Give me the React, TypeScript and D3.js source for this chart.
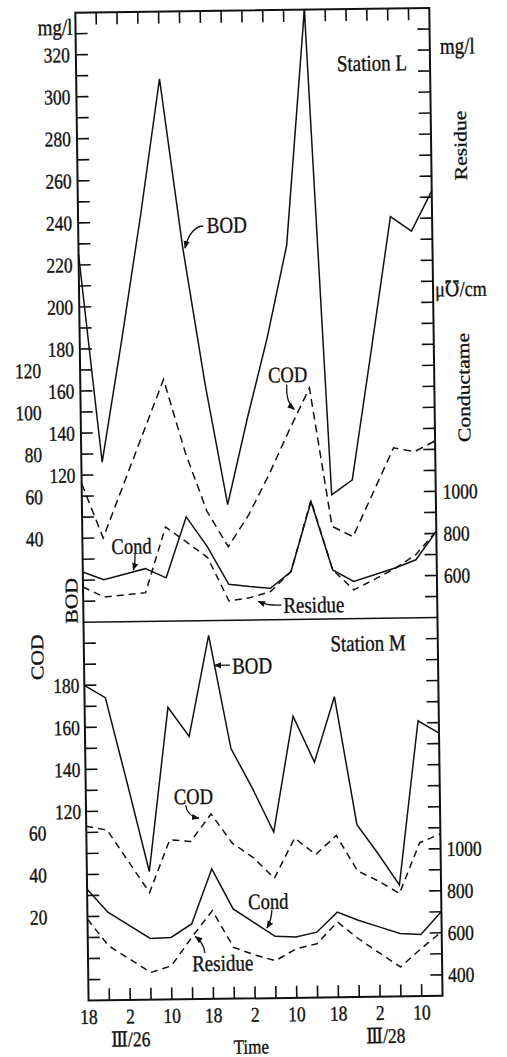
import React from 'react';
import * as d3 from 'd3';

// one reading every 4 hours, counted from III/25 18:00
const hours = [0, 4, 8, 12, 16, 20, 24, 28, 32, 36, 40, 44, 48, 52, 56, 60, 64, 68];

// Station L
const bodL = [225, 126, 183, 243, 308, 228, 162, 105, 146, 184, 228, 340, 109, 116, 178, 241, 234, 253];
const codL = [66, 40, 65, 90, 115, 80, 52, 35, 50, 69, 90, 110, 44, 39, 60, 81, 79, 84];
const condL = [639, 601, 626, 651, 606, 895, 751, 571, 559, 550, 628, 959, 633, 577, 607, 638, 676, 810];
const resL = [568, 519, 528, 537, 848, 775, 700, 492, 506, 534, 628, 966, 633, 537, 585, 637, 700, 810];

// Station M
const bodM = [180, 174, 133, 91, 169, 155, 203, 149, 130, 109, 164, 142, 173, 112, 98, 83, 161, 155];
const codM = [63, 61, 46, 31, 56, 55, 68, 54, 47, 37, 56, 48, 57, 40, 35, 29, 53, 57];
const condM = [830, 718, 655, 592, 595, 658, 919, 727, 660, 594, 589, 611, 705, 665, 632, 599, 593, 701];
const resM = [687, 559, 495, 430, 460, 595, 720, 544, 507, 478, 533, 556, 658, 577, 508, 440, 526, 605];

// axis labels
const timeLabels = ['18', '2', '10', '18', '2', '10', '18', '2', '10'];
const timeLabelHours = [0, 8, 16, 24, 32, 40, 48, 56, 64];
const dateLabels = ['Ⅲ/26', 'Ⅲ/28'];
const dateLabelHours = [8, 57];
const bodTicksL = [320, 300, 280, 260, 240, 220, 200, 180, 160, 140, 120];
const codTicksL = [120, 100, 80, 60, 40];
const condTicksL = [1000, 800, 600];
const bodTicksM = [180, 160, 140, 120];
const codTicksM = [60, 40, 20];
const condTicksM = [1000, 800, 600, 400];

const W = 354;
const H = 988;
const unit = H / 47;
const topH = unit * 29;
const FONT = "'Liberation Serif', 'DejaVu Serif', serif";

function Label({ u, v, text, size = 17.5, anchor = 'middle', rot = 0 }: any) {
  // the scanned figure is stretched a bit vertically
  return (
    <g transform={`translate(${u},${v}) scale(1,1.2) rotate(${rot})`}>
      <text textAnchor={anchor} dy="0.35em" fontSize={size} fill="#111" stroke="#111" strokeWidth={0.3}>{text}</text>
    </g>
  );
}

export default function App() {
  const x = d3.scaleLinear().domain([0, 68]).range([0, W]);
  const bodTop = d3.scaleLinear().domain([50, 340]).range([topH, 0]);
  const codTop = d3.scaleLinear().domain([0, 290]).range([topH, 0]);
  const condTop = d3.scaleLinear().domain([400, 3300]).range([topH, 0]);
  const bodBot = d3.scaleLinear().domain([30, 210]).range([H, topH]);
  const codBot = d3.scaleLinear().domain([-20, 160]).range([H, topH]);
  const condBot = d3.scaleLinear().domain([300, 2100]).range([H, topH]);

  const path = (vals: number[], y: any) =>
    d3.line<number>().x((_, i) => x(hours[i])).y((d) => y(d))(vals) || '';

  const leftTicksTop = d3.range(60, 331, 10).map((b) => bodTop(b));
  const leftTicksBot = d3.range(40, 201, 10).map((b) => bodBot(b));
  const xTicks = d3.range(4, 65, 4).map((h) => x(h));

  const lineStyle = { fill: 'none', stroke: '#111', strokeWidth: 1.5, strokeLinejoin: 'miter' as const };

  return (
    <svg width={507} height={1057} style={{ position: 'absolute', left: 0, top: 0, background: '#fff' }} fontFamily={FONT}>
      <defs>
        <marker id="ah" viewBox="0 0 10 10" refX="9" refY="5" markerWidth="6" markerHeight="6" orient="auto">
          <path d="M0,1 L10,5 L0,9 z" fill="#111" />
        </marker>
      </defs>
      <g transform="translate(75.3,12.7) rotate(-0.77)">
        {/* frame */}
        <rect x={0} y={0} width={W} height={H} fill="none" stroke="#111" strokeWidth={2} />
        <line x1={0} x2={W} y1={topH} y2={topH} stroke="#111" strokeWidth={1.6} />

        {/* ticks */}
        {[...leftTicksTop, ...leftTicksBot].map((v, i) => (
          <g key={'lt' + i}>
            <line x1={0} x2={12} y1={v} y2={v} stroke="#111" strokeWidth={1.6} />
            <line x1={W - 12} x2={W} y1={v} y2={v} stroke="#111" strokeWidth={1.6} />
          </g>
        ))}
        {xTicks.map((u, i) => (
          <g key={'xt' + i}>
            <line x1={u} x2={u} y1={0} y2={12} stroke="#111" strokeWidth={1.6} />
            <line x1={u} x2={u} y1={H - 12} y2={H} stroke="#111" strokeWidth={1.6} />
          </g>
        ))}

        {/* Station L */}
        <path d={path(bodL, bodTop)} {...lineStyle} />
        <path d={path(codL, codTop)} {...lineStyle} strokeDasharray="8,5" />
        <path d={path(condL, condTop)} {...lineStyle} />
        <path d={path(resL, condTop)} {...lineStyle} strokeDasharray="7,5" />

        {/* Station M */}
        <path d={path(bodM, bodBot)} {...lineStyle} />
        <path d={path(codM, codBot)} {...lineStyle} strokeDasharray="7,5" />
        <path d={path(condM, condBot)} {...lineStyle} />
        <path d={path(resM, condBot)} {...lineStyle} strokeDasharray="7,5" />

        {/* left axis labels */}
        <Label u={-3} v={14} text="mg/l" size={19} anchor="end" />
        {bodTicksL.map((b) => <Label key={'bl' + b} u={-6} v={bodTop(b)} text={b} anchor="end" />)}
        {codTicksL.map((c) => <Label key={'cl' + c} u={-39} v={codTop(c)} text={c} anchor="end" />)}
        <Label u={-12} v={588} text="BOD" size={18} rot={-90} />
        {bodTicksM.map((b) => <Label key={'bm' + b} u={-5} v={bodBot(b)} text={b} anchor="end" />)}
        {codTicksM.map((c) => <Label key={'cm' + c} u={-40} v={codBot(c)} text={c} anchor="end" />)}
        <Label u={-47} v={644} text="COD" size={18} rot={-90} />

        {/* right axis labels */}
        <Label u={364} v={38} text="mg/l" size={19} anchor="start" />
        <Label u={383} v={138} text="Residue" size={18} rot={-90} />
        <Label u={356} v={281} text="μ℧/cm" size={18} anchor="start" />
        <Label u={383} v={380} text="Conductame" size={18} rot={-90} />
        {condTicksL.map((c) => <Label key={'rl' + c} u={361} v={condTop(c)} text={c} anchor="start" />)}
        {condTicksM.map((c) => <Label key={'rm' + c} u={360} v={condBot(c)} text={c} anchor="start" />)}

        {/* x axis labels */}
        {timeLabels.map((t, i) => <Label key={'tx' + i} u={x(timeLabelHours[i])} v={1004} text={t} />)}
        {dateLabels.map((t, i) => <Label key={'dx' + i} u={x(dateLabelHours[i])} v={1027} text={t} />)}
        <Label u={162} v={1036} text="Time" size={17} />

        {/* station titles */}
        <Label u={331} v={54} text="Station L" size={19} anchor="end" />
        <Label u={322} v={634} text="Station M" size={19} anchor="end" />

        {/* annotations, Station L */}
        <Label u={128.5} v={214} text="BOD" size={19} anchor="start" />
        <path d="M125,215 Q112,216 106.5,236.8" fill="none" stroke="#111" strokeWidth={1.3} markerEnd="url(#ah)" />
        <Label u={188} v={364.5} text="COD" size={18.5} anchor="start" />
        <path d="M206.4,374.7 Q205,392 213.6,399.8" fill="none" stroke="#111" strokeWidth={1.3} markerEnd="url(#ah)" />
        <Label u={29} v={534} text="Cond" size={18.5} anchor="start" />
        <path d="M52.4,542 Q53,550 50.5,558" fill="none" stroke="#111" strokeWidth={1.3} markerEnd="url(#ah)" />
        <Label u={200} v={595} text="Residue" size={19} anchor="start" />
        <path d="M198,595 Q186,596 175,591" fill="none" stroke="#111" strokeWidth={1.3} markerEnd="url(#ah)" />

        {/* annotations, Station M */}
        <Label u={148} v={655} text="BOD" size={19} anchor="start" />
        <path d="M146,654.5 L130,654.5" fill="none" stroke="#111" strokeWidth={1.3} markerEnd="url(#ah)" />
        <Label u={88} v={785} text="COD" size={18.5} anchor="start" />
        <path d="M99.7,794 Q101,805 112.8,807" fill="none" stroke="#111" strokeWidth={1.3} markerEnd="url(#ah)" />
        <Label u={161} v={891} text="Cond" size={18.5} anchor="start" />
        <path d="M184.5,900 Q184,910 179.3,917.8" fill="none" stroke="#111" strokeWidth={1.3} markerEnd="url(#ah)" />
        <Label u={104} v={952} text="Residue" size={19} anchor="start" />
        <path d="M117,942 Q116,932 107.5,925.4" fill="none" stroke="#111" strokeWidth={1.3} markerEnd="url(#ah)" />
      </g>
    </svg>
  );
}
